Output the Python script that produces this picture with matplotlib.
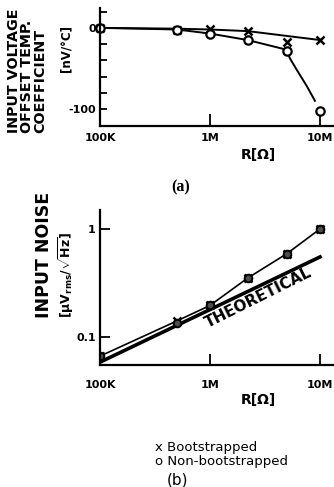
import numpy as np
import matplotlib.pyplot as plt

# --- data ---
r_points = [1e5, 5e5, 1e6, 2.2e6, 5e6, 1e7]

# (a) offset temp. coefficient [nV/C]
tc_boot = [0, -3, -2, -4, -18, -15]
tc_nonboot = [0, -3, -8, -15, -28, -103]
# hand-drawn curves through the points
tc_boot_curve_r = [1e5, 5e5, 1e6, 2.2e6, 1e7]
tc_boot_curve = [0, -1, -2, -4, -15]
tc_nonboot_curve_r = [1e5, 5e5, 1e6, 2.2e6, 5e6, 5.3e6, 6.1e6, 7.6e6, 9.0e6]
tc_nonboot_curve = [0, -2, -7, -15, -27, -37, -51, -72, -90]

# (b) input noise [uVrms/sqrtHz]
noise_boot = [0.066, 0.14, 0.195, 0.35, 0.59, 1.0]
noise_nonboot = [0.066, 0.135, 0.195, 0.35, 0.59, 1.0]
theory_r = [1e5, 1e7]
theory_noise = [0.058, 0.55]

x_ticks = [1e5, 1e6, 1e7]
x_labels = ["100K", "1M", "10M"]

W, H = 334, 487
plt.rcParams['font.family'] = ['DejaVu Sans']
plt.rcParams['mathtext.fontset'] = 'custom'
plt.rcParams['mathtext.rm'] = 'DejaVu Sans:bold'
plt.rcParams['mathtext.it'] = 'DejaVu Sans:bold'

fig = plt.figure(figsize=(W / 100, H / 100), dpi=100)


def box(x0, y0, x1, y1):
    # pixel box (top-left origin) -> figure fraction rect
    return [x0 / W, 1 - y1 / H, (x1 - x0) / W, (y1 - y0) / H]


def ftext(x, y, s, **kw):
    fig.text(x / W, 1 - y / H, s, **kw)


def style_axes(ax):
    for side in ["top", "right"]:
        ax.spines[side].set_visible(False)
    for side in ["left", "bottom"]:
        ax.spines[side].set_linewidth(1.6)
    ax.set_xscale("log")
    ax.set_xlim(1e5, 10 ** (5 + 234 / 110))
    ax.set_xticks(x_ticks)
    ax.set_xticklabels(x_labels, fontweight="bold", fontsize=8)
    ax.minorticks_off()
    ax.tick_params(direction="in", width=1.3)


# ---------------- (a) ----------------
ax1 = fig.add_axes(box(100, 8, 334, 126))
style_axes(ax1)
ax1.set_ylim(-121, 24.5)
ax1.set_yticks([20, 0, -20, -40, -60, -80, -100])
ax1.set_yticklabels(["", "0", "", "", "", "", "-100"], fontweight="bold", fontsize=8)
ax1.tick_params(axis="y", length=5, pad=3)
ax1.tick_params(axis="x", length=9, pad=5)

ax1.plot(tc_boot_curve_r, tc_boot_curve, color="black", lw=1.4)
ax1.plot(tc_nonboot_curve_r, tc_nonboot_curve, color="black", lw=1.4)
ax1.plot(r_points, tc_boot, "x", color="black", ms=6, mew=1.8, clip_on=False)
ax1.plot(r_points, tc_nonboot, "o", color="black", mfc="white", ms=6, mew=1.6, clip_on=False)

ftext(27, 133, "INPUT VOLTAGE\nOFFSET TEMP.\nCOEFFICIENT", rotation=90,
      rotation_mode="anchor", ha="left", va="center", multialignment="left",
      fontsize=10.3, fontweight="bold", linespacing=0.92)
ftext(66, 72, "[nV/°C]", rotation=90, rotation_mode="anchor", ha="left",
      va="center", fontsize=8.5, fontweight="bold")
ftext(258, 155, "R[Ω]", ha="center", va="center", fontsize=10, fontweight="bold")
ftext(181, 187, "(a)", ha="center", va="center", fontsize=11.5, fontweight="bold",
      family="Liberation Serif")

# ---------------- (b) ----------------
ax2 = fig.add_axes(box(100, 210, 334, 365))
style_axes(ax2)
ax2.set_yscale("log")
ax2.set_ylim(0.0546, 1.5)
ax2.set_yticks([0.1, 1])
ax2.set_yticklabels(["0.1", "1"], fontweight="bold", fontsize=8)
ax2.minorticks_off()
ax2.tick_params(axis="y", length=7, pad=3)
ax2.tick_params(axis="x", length=8, pad=11)

ax2.plot(theory_r, theory_noise, color="black", lw=2.6)
ax2.plot(r_points, noise_boot, color="black", lw=1.2)
ax2.plot(r_points, noise_boot, "x", color="black", ms=6, mew=1.8)
ax2.plot(r_points, noise_nonboot, "o", color="black", mfc="0.3", ms=5.5, mew=1.4)
ax2.text(2.77e6, 0.229, "THEORETICAL", rotation=26.5, rotation_mode="anchor",
         ha="center", va="center", fontsize=11, fontweight="bold")

ftext(44, 318, "INPUT NOISE", rotation=90, rotation_mode="anchor", ha="left",
      va="center", fontsize=12.5, fontweight="bold")
ftext(66, 318, r"[$\mu$V$_{\rm rms}$/$\sqrt{\rm Hz}$]", rotation=90,
      rotation_mode="anchor", ha="left", va="center", fontsize=9, fontweight="bold")
ftext(258, 400, "R[Ω]", ha="center", va="center", fontsize=10, fontweight="bold")

ftext(155, 447, "x Bootstrapped", ha="left", va="center", fontsize=9.5)
ftext(155, 461, "o Non-bootstrapped", ha="left", va="center", fontsize=9.5)
ftext(177, 480, "(b)", ha="center", va="center", fontsize=11)

fig.savefig("out.png", dpi=100)
